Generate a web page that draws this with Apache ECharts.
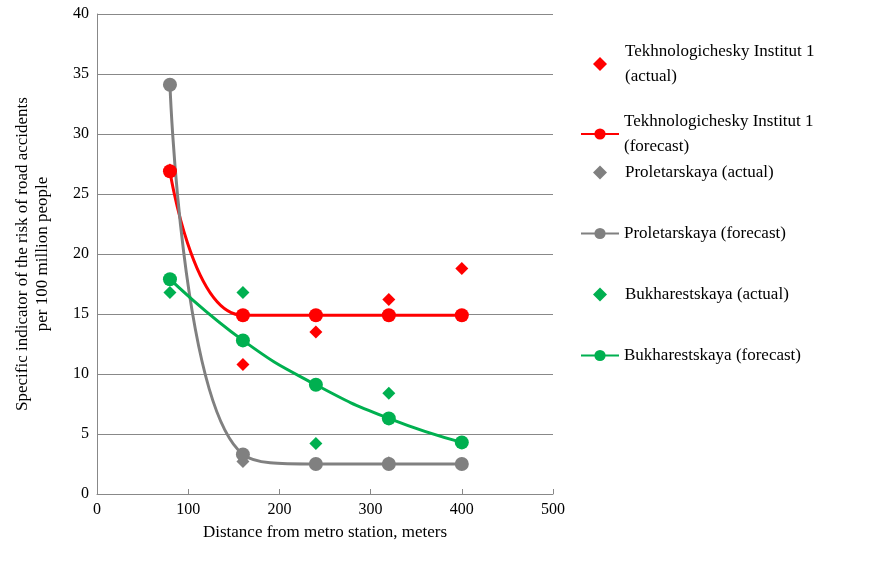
<!DOCTYPE html><html><head><meta charset="utf-8"><script src="https://cdn.jsdelivr.net/npm/echarts@6/dist/echarts.min.js"></script></head><body style="margin:0"><div id="c" style="width:871px;height:565px"></div><script>
const xs=[80,160,240,320,400];
const tekhActual=[27,10.8,13.5,16.2,18.8];
const tekhForecast=[26.9,14.9,14.9,14.9,14.9];
const proActual=[34,2.7,2.5,2.6,2.5];
const proForecast=[34.1,3.3,2.5,2.5,2.5];
const bukActual=[16.8,16.8,4.2,8.4,4.3];
const bukForecast=[17.9,12.8,9.1,6.3,4.3];
const names=['Tekhnologichesky Institut 1\n(actual)','Tekhnologichesky Institut 1\n(forecast)','Proletarskaya (actual)','Proletarskaya (forecast)','Bukharestskaya (actual)','Bukharestskaya (forecast)'];
const pair=a=>xs.map((x,i)=>[x,a[i]]);
const F='Liberation Serif';
const tops=[34,104,155,216,277,338];
const legends=names.map((n,i)=>({data:[n],left:i%2?575:588,top:tops[i],orient:'vertical',itemWidth:i%2?38:14,itemHeight:14,itemGap:0,textStyle:{fontFamily:F,fontSize:17,color:'#000',lineHeight:25,padding:[0,0,0,i%2?0:13]}}));
const sc=(n,d,c)=>({name:n,type:'scatter',data:pair(d),symbol:'diamond',symbolSize:13,itemStyle:{color:c,opacity:1}});
const ln=(n,d,c)=>({name:n,type:'line',data:pair(d),smooth:0.5,symbol:'circle',symbolSize:14,lineStyle:{color:c,width:3},itemStyle:{color:c}});
echarts.init(document.getElementById('c')).setOption({animation:false,
legend:legends,
grid:{left:97,right:318,top:14,bottom:71},
xAxis:{type:'value',min:0,max:500,interval:100,name:'Distance from metro station, meters',nameLocation:'middle',nameGap:30,nameTextStyle:{fontFamily:F,fontSize:17,color:'#000'},axisLabel:{fontFamily:F,fontSize:16,color:'#000'},axisLine:{lineStyle:{color:'#888'}},axisTick:{show:true,inside:true,lineStyle:{color:'#888'}},splitLine:{show:false}},
yAxis:{type:'value',min:0,max:40,interval:5,name:'Specific indicator of the risk of road accidents\nper 100 million people',nameLocation:'middle',nameGap:44,nameTextStyle:{fontFamily:F,fontSize:17,color:'#000',lineHeight:20},axisLabel:{fontFamily:F,fontSize:16,color:'#000'},axisLine:{show:true,lineStyle:{color:'#888'}},axisTick:{show:true,inside:true,lineStyle:{color:'#888'}},splitLine:{lineStyle:{color:'#888'}}},
series:[sc(names[0],tekhActual,'#ff0000'),ln(names[1],tekhForecast,'#ff0000'),sc(names[2],proActual,'#808080'),ln(names[3],proForecast,'#808080'),sc(names[4],bukActual,'#00b050'),ln(names[5],bukForecast,'#00b050')]});
</script></body></html>
